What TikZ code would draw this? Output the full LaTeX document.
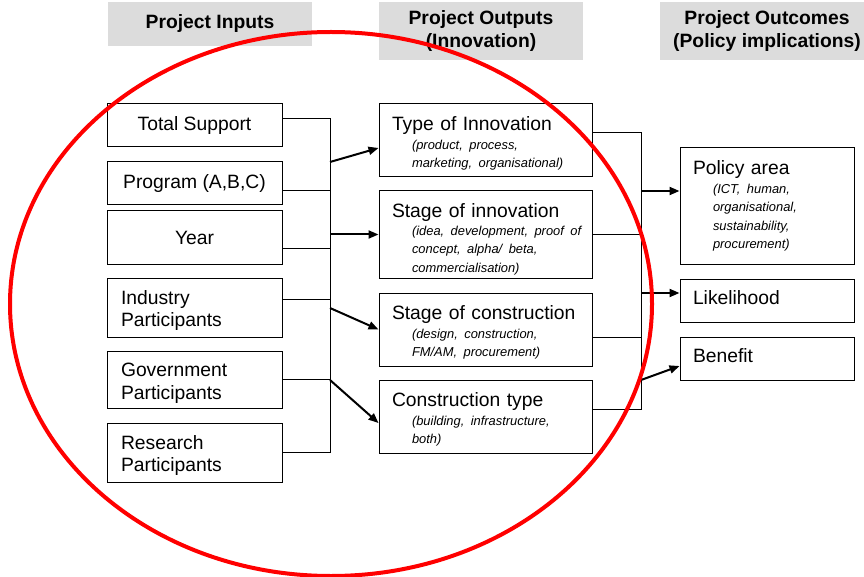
\documentclass[tikz,border=0pt]{standalone}
\usepackage{fontspec}
\setmainfont{Liberation Sans}
\usepackage{tikz}
\usetikzlibrary{arrows.meta, positioning, calc}
\definecolor{hdrgray}{RGB}{220,220,220}
\newcommand{\subtxt}[1]{{\fontsize{12.9}{18.3}\selectfont\itshape\hspace*{20pt}\mbox{#1}}}
\newcommand{\topstrut}[1][20pt]{\rule{0pt}{#1}}
\frenchspacing
\tikzset{
  hdr/.style={fill=hdrgray, font=\fontsize{19.3}{22.5}\selectfont\bfseries, align=center, inner sep=0pt, minimum width=204pt},
  inbox/.style={draw, line width=1pt, minimum width=175pt, inner xsep=14pt, inner ysep=0pt},
  inmulti/.style={inbox, text width=147pt, align=left},
  outbox/.style={draw, line width=1pt, minimum width=213pt, inner xsep=13pt, inner ysep=0pt, text width=187pt, align=left, font=\fontsize{19.3}{18.3}\selectfont},
  effbox/.style={draw, line width=1pt, minimum width=174pt, inner xsep=13pt, inner ysep=0pt, text width=148pt, align=left, font=\fontsize{19.3}{18.5}\selectfont},
  link/.style={line width=1pt},
  flow/.style={line width=2pt, -{Triangle[length=10pt,width=8pt]}}
}
\begin{document}
\fontsize{19.3}{22.5}\selectfont
\begin{tikzpicture}[x=1pt, y=-1pt]
    \useasboundingbox (0,0) rectangle (864,577);
    %column headings
    \node[hdr, minimum height=44pt] (hin) at (210,24) {Project Inputs};
    \node[hdr, minimum height=58pt] (hout) at (481,31) {Project Outputs\\(Innovation)};
    \node[hdr, minimum height=58pt, minimum width=214pt] (hres) at (767,31) {Project Outcomes\\(Policy implications)};
    %inputs
    \node[inbox, minimum height=43pt] (tot) at (194.5,125.5) {Total Support};
    \node[inbox, minimum height=43pt] (prog) at (194.5,183.5) {Program (A,B,C)};
    \node[inbox, minimum height=53pt] (year) at (194.5,237.5) {Year};
    \node[inmulti, minimum height=59pt] (ind) at (194.5,307.5) {\topstrut Industry\\Participants};
    \node[inmulti, minimum height=57pt] (gov) at (194.5,379.5) {\topstrut[21pt]Government\\Participants};
    \node[inmulti, minimum height=59pt] (res) at (194.5,452.5) {\topstrut Research\\Participants};
    %outputs
    \node[outbox, minimum height=73pt] (typ) at (485.5,140.5) {\topstrut Type of Innovation\\ \subtxt{(product, process,}\\ \subtxt{marketing, organisational)}};
    \node[outbox, minimum height=87pt] (sinno) at (485.5,234.5) {\topstrut[23pt]Stage of innovation\\ \subtxt{(idea, development, proof of}\\ \subtxt{concept, alpha/ beta,}\\ \subtxt{commercialisation)}};
    \node[outbox, minimum height=73pt] (scons) at (485.5,329.5) {\topstrut Stage of construction\\ \subtxt{(design, construction,}\\ \subtxt{FM/AM, procurement)}};
    \node[outbox, minimum height=73pt] (ctype) at (485.5,416.5) {\topstrut Construction type\\ \subtxt{(building, infrastructure,}\\ \subtxt{both)}};
    %outcomes
    \node[effbox, minimum height=116pt] (pol) at (767,206) {Policy area\\ \subtxt{(ICT, human,}\\ \subtxt{organisational,}\\ \subtxt{sustainability,}\\ \subtxt{procurement)}};
    \node[effbox, minimum height=43pt, text depth=5pt] (lik) at (767,300.5) {Likelihood};
    \node[effbox, minimum height=43pt, text depth=5pt] (ben) at (767,358.5) {Benefit};
    %left bus
    \coordinate (lbtop) at (330,119);
    \coordinate (lbbot) at (330,452.5);
    \draw[link] (tot.east |- lbtop) -- (lbtop) -- (lbbot) -- (res.east);
    \draw[link] ([yshift=-7.5pt]prog.east) -- ([yshift=-7.5pt]prog.east -| lbtop);
    \draw[link] ([yshift=-11.5pt]year.east) -- ([yshift=-11.5pt]year.east -| lbtop);
    \draw[link] ([yshift=8.5pt]ind.east) -- ([yshift=8.5pt]ind.east -| lbtop);
    \draw[link] (gov.east) -- (gov.east -| lbtop);
    %arrows into the outputs
    \coordinate (la1) at (330,162);
    \coordinate (la3) at (330,308);
    \coordinate (la4) at (330,380);
    \draw[flow] (la1) -- ([yshift=-7.5pt]typ.west);
    \draw[flow] (sinno.west -| lbtop) -- (sinno.west);
    \draw[flow] (la3) -- (scons.west);
    \draw[flow] (la4) -- ([yshift=-6.5pt]ctype.west);
    %right bus
    \coordinate (rbtop) at (641,133);
    \coordinate (rbbot) at (641,409);
    \draw[link] ([yshift=7.5pt]typ.east) -- (rbtop) -- (rbbot) -- ([yshift=7.5pt]ctype.east);
    \draw[link] (sinno.east) -- (sinno.east -| rbtop);
    \draw[link] ([yshift=-7.5pt]scons.east) -- ([yshift=-7.5pt]scons.east -| rbtop);
    %arrows into the outcomes
    \coordinate (ra3) at (641,380);
    \draw[flow] ([yshift=15pt]pol.west -| rbtop) -- ([yshift=15pt]pol.west);
    \draw[flow] ([yshift=7.5pt]lik.west -| rbtop) -- ([yshift=7.5pt]lik.west);
    \draw[flow] (ra3) -- ([yshift=-7.5pt]ben.west);
    %red ring round inputs and outputs
    \draw[red, line width=4pt] (331,304) ellipse [x radius=321pt, y radius=272pt];
\end{tikzpicture}
\end{document}
